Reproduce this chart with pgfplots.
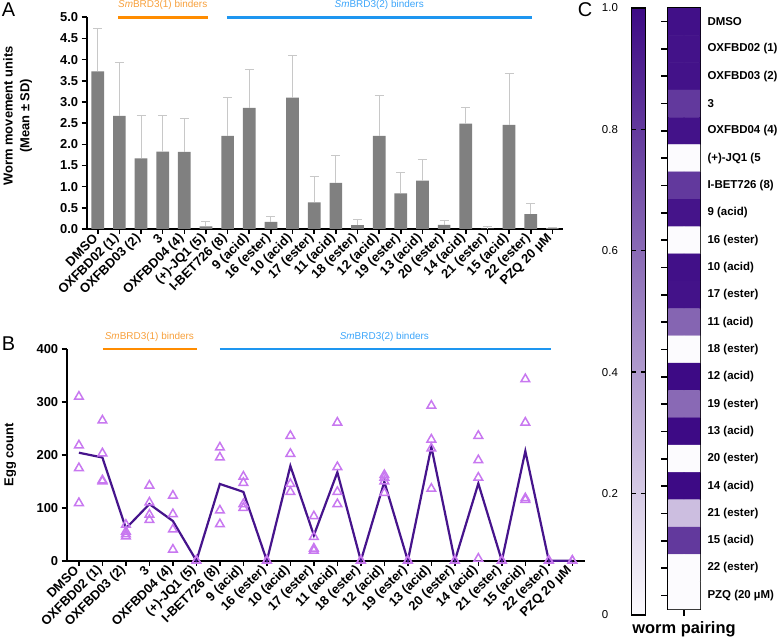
\documentclass[border=0pt]{standalone}
\usepackage{fontspec}
\setmainfont{Liberation Sans}
\usepackage{pgfplots}
\pgfplotsset{compat=1.18}

\definecolor{barGray}{RGB}{128,128,128}
\definecolor{errGray}{RGB}{200,200,200}
\definecolor{bdOrange}{RGB}{255,140,0}
\definecolor{bdOrangeText}{RGB}{247,160,60}
\definecolor{bdBlue}{RGB}{30,150,240}
\definecolor{bdBlueText}{RGB}{60,165,250}
\definecolor{meanPurple}{RGB}{70,20,140}
\definecolor{ptViolet}{RGB}{200,120,240}

\newcommand\tickfont{\bfseries\fontsize{13}{13}\selectfont}

\tikzset{binder/.style={font=\fontsize{10}{10}\selectfont, anchor=center}}

\pgfplotsset{
  panel/.style={
    scale only axis, clip=false,
    axis x line*=bottom, axis y line*=left,
    axis line style={line width=1.8bp},
    tick style={black, line width=1.6bp},
    major tick length=5bp, tick align=outside,
    xtick={0,...,21},
    xticklabels={DMSO, OXFBD02 (1), OXFBD03 (2), 3, OXFBD04 (4), (+)-JQ1 (5),
      I-BET726 (8), 9 (acid), 16 (ester), 10 (acid), 17 (ester), 11 (acid),
      18 (ester), 12 (acid), 19 (ester), 13 (acid), 20 (ester), 14 (acid),
      21 (ester), 15 (acid), 22 (ester), PZQ 20 µM},
    xticklabel style={rotate=45, anchor=east, font=\tickfont},
    yticklabel style={font=\tickfont},
    /pgf/number format/assume math mode=true,
    ylabel style={font=\bfseries\fontsize{13}{17}\selectfont, align=center, anchor=center},
  },
}

\pgfplotstableread{
i  m    sd
0  3.72 1.02
1  2.67 1.26
2  1.67 1.02
3  1.83 0.86
4  1.82 0.79
5  0.06 0.12
6  2.20 0.91
7  2.86 0.91
8  0.17 0.12
9  3.10 1.00
10 0.63 0.61
11 1.09 0.65
12 0.09 0.13
13 2.20 0.96
14 0.84 0.50
15 1.14 0.51
16 0.10 0.10
17 2.49 0.38
18 0.01 0.05
19 2.46 1.22
20 0.35 0.26
21 0.02 0.02
}\movement

\pgfplotstableread{
i  v
0  310
0  218
0  175
0  109
1  265
1  203
1  152
1  150
2  68
2  55
2  50
2  46
3  142
3  110
3  87
3  77
4  123
4  88
4  59
4  21
5  0
5  0
6  214
6  195
6  95
6  69
7  159
7  147
7  107
7  100
8  0
8  0
9  236
9  202
9  145
9  130
10 84
10 45
10 23
10 19
11 261
11 177
11 130
11 107
12 0
12 0
13 162
13 157
13 150
13 128
14 0
14 0
15 293
15 229
15 212
15 136
16 0
16 0
17 236
17 190
17 157
17 4
18 0
18 0
19 343
19 261
19 118
19 115
20 0
20 0
21 0
21 0
}\eggs

\pgfplotstableread{
i  v
0  204
1  195
2  61
3  107
4  75
5  0
6  145
7  130
8  0
9  179
10 48
11 167
12 0
13 149
14 0
15 215
16 0
17 146
18 0
19 207
20 0
21 0
}\eggmean

\pgfplotstableread{
x y v
0 0 0.97
1 0 0.97
0 1 0.96
1 1 0.96
0 2 0.96
1 2 0.96
0 3 0.80
1 3 0.80
0 4 0.96
1 4 0.96
0 5 0
1 5 0
0 6 0.80
1 6 0.80
0 7 0.95
1 7 0.95
0 8 0
1 8 0
0 9 0.97
1 9 0.97
0 10 0.96
1 10 0.96
0 11 0.62
1 11 0.62
0 12 0
1 12 0
0 13 1.00
1 13 1.00
0 14 0.60
1 14 0.60
0 15 1.00
1 15 1.00
0 16 0
1 16 0
0 17 1.00
1 17 1.00
0 18 0.25
1 18 0.25
0 19 0.80
1 19 0.80
0 20 0
1 20 0
0 21 0
1 21 0
}\pairing

\begin{document}
\begin{tikzpicture}
\useasboundingbox (0,0) rectangle (781bp,639bp);

% panel A
\begin{axis}[panel,
    at={(86.7bp,410bp)}, anchor=south west,
    width=476.3bp, height=211.7bp,
    xmin=-0.51, xmax=21.49, ymin=0, ymax=5,
    ytick={0,0.5,...,5},
    yticklabel style={/pgf/number format/.cd, fixed, fixed zerofill, precision=1},
    ylabel={Worm movement units\\(Mean ± SD)},
    ylabel style={at={(axis description cs:-0.145,0.534)}},
]
\addplot[ybar, bar width=12.7bp, fill=barGray, draw=none,
    error bars/.cd, y dir=plus, y explicit,
    error bar style={errGray, line width=1bp},
    error mark options={errGray, line width=1bp, mark size=4.5bp, rotate=90}]
    table[x=i, y=m, y error=sd] {\movement};
\draw[bdOrange, line width=2.8bp] (axis cs:0.95,5) -- (axis cs:5.08,5);
\draw[bdBlue, line width=2.8bp] (axis cs:5.96,5) -- (axis cs:20.05,5);
\node[binder, text=bdOrangeText] at (axis cs:3.0,5) [yshift=12bp] {\textit{Sm}BRD3(1) binders};
\node[binder, text=bdBlueText] at (axis cs:13.0,5) [yshift=12bp] {\textit{Sm}BRD3(2) binders};
\end{axis}

% panel B
\begin{axis}[panel,
    at={(66.7bp,78.3bp)}, anchor=south west,
    width=518.3bp, height=211.7bp,
    xmin=-0.52, xmax=21.54, ymin=0, ymax=400,
    ytick={0,100,...,400},
    ylabel={Egg count},
    ylabel style={at={(axis description cs:-0.109,0.5)}},
]
\addplot[only marks, mark=triangle, mark size=5bp,
    mark options={ptViolet, line width=1.5bp}]
    table[x=i, y=v] {\eggs};
\addplot[meanPurple, line width=2.2bp, mark=none]
    table[x=i, y=v] {\eggmean};
\draw[bdOrange, line width=2.8bp] (axis cs:1.02,400) -- (axis cs:5.03,400);
\draw[bdBlue, line width=2.8bp] (axis cs:6.0,400) -- (axis cs:20.1,400);
\node[binder, text=bdOrangeText] at (axis cs:3.0,400) [yshift=12bp] {\textit{Sm}BRD3(1) binders};
\node[binder, text=bdBlueText] at (axis cs:13.0,400) [yshift=12bp] {\textit{Sm}BRD3(2) binders};
\end{axis}

% panel C
\begin{axis}[
    at={(668bp,30bp)}, anchor=south west,
    scale only axis, width=32bp, height=601bp,
    xmin=-0.5, xmax=1.5, ymin=-0.5, ymax=21.5, y dir=reverse,
    axis line style={line width=1.8bp},
    tick style={black, line width=1.6bp},
    major tick length=7bp, tick align=outside,
    xtick={0.5}, xticklabels={}, xtick pos=bottom,
    ytick={0,...,21}, ytick pos=left, yticklabel pos=right,
    yticklabels={DMSO, OXFBD02 (1), OXFBD03 (2), 3, OXFBD04 (4), (+)-JQ1 (5,
      I-BET726 (8), 9 (acid), 16 (ester), 10 (acid), 17 (ester), 11 (acid),
      18 (ester), 12 (acid), 19 (ester), 13 (acid), 20 (ester), 14 (acid),
      21 (ester), 15 (acid), 22 (ester), PZQ (20 µM)},
    yticklabel style={font=\bfseries\fontsize{11.5}{12}\selectfont, xshift=-3bp},
    xlabel={worm pairing},
    xlabel style={font=\bfseries\fontsize{16.5}{17}\selectfont, yshift=5bp},
    colormap={wp}{rgb255(0)=(252,251,254) rgb255(1)=(61,10,133)},
    point meta min=0, point meta max=1,
    colorbar left,
    colorbar style={
      at={(parent axis.north west)}, anchor=north east, xshift=-14bp,
      scale only axis, width=14bp, height=607bp,
      axis on top,
      axis line style={line width=1.8bp},
      ytick={0,0.2,0.4,0.6,0.8,1}, yticklabels={0,0.2,0.4,0.6,0.8,1.0},
      ytick pos=both, yticklabel pos=left,
      ytick style={draw=black, line width=1.4bp},
      major tick length=4.5bp, tick align=inside,
      yticklabel style={font=\fontsize{11.5}{12}\selectfont, text width=26bp, align=left},
    },
]
\addplot[matrix plot*, mesh/cols=2, point meta=explicit]
    table[x=x, y=y, meta=v] {\pairing};
\end{axis}

\node[font=\fontsize{20}{20}\selectfont] at (8.5bp,629bp) {A};
\node[font=\fontsize{20}{20}\selectfont] at (8.5bp,295bp) {B};
\node[font=\fontsize{20}{20}\selectfont] at (585bp,629bp) {C};
\end{tikzpicture}
\end{document}
